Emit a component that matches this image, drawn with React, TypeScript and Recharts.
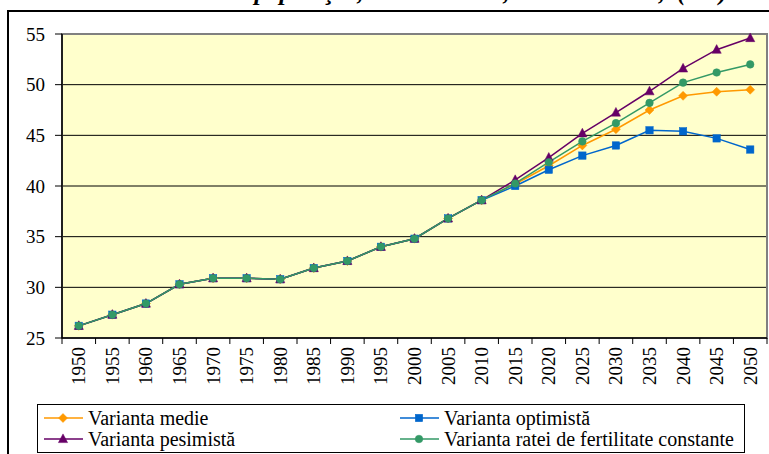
import React from "react";
import { LineChart, Line, XAxis, YAxis, CartesianGrid, ReferenceArea } from "recharts";

const years = [1950, 1955, 1960, 1965, 1970, 1975, 1980, 1985, 1990, 1995, 2000, 2005, 2010, 2015, 2020, 2025, 2030, 2035, 2040, 2045, 2050];
const medie = [26.2, 27.3, 28.4, 30.3, 30.9, 30.9, 30.8, 31.9, 32.6, 34.0, 34.8, 36.8, 38.6, 40.2, 42.0, 44.0, 45.6, 47.5, 48.9, 49.3, 49.5];
const optimista = [26.2, 27.3, 28.4, 30.3, 30.9, 30.9, 30.8, 31.9, 32.6, 34.0, 34.8, 36.8, 38.6, 40.0, 41.6, 43.0, 44.0, 45.5, 45.4, 44.7, 43.6];
const pesimista = [26.2, 27.3, 28.4, 30.3, 30.9, 30.9, 30.8, 31.9, 32.6, 34.0, 34.8, 36.8, 38.6, 40.6, 42.8, 45.2, 47.25, 49.35, 51.6, 53.45, 54.6];
const constanta = [26.2, 27.3, 28.4, 30.3, 30.9, 30.9, 30.8, 31.9, 32.6, 34.0, 34.8, 36.8, 38.6, 40.25, 42.35, 44.4, 46.2, 48.2, 50.2, 51.2, 52.0];
const yTicks = [25, 30, 35, 40, 45, 50, 55];
const seriesNames = ["Varianta medie", "Varianta optimistă", "Varianta pesimistă", "Varianta ratei de fertilitate constante"];
const titleText = "Vârsta medie a populaţiei, în România, 1950 – 2050, (ani)";

const data = years.map((y, i) => ({
  year: y,
  medie: medie[i],
  optimista: optimista[i],
  pesimista: pesimista[i],
  constanta: constanta[i],
}));

const FONT = '"Liberation Serif"';
const W = 769;
const H = 454;
const PLOT_LEFT = 62;
const PLOT_RIGHT = 767;
const PLOT_TOP = 34;
const PLOT_BOTTOM = 338;
const HALF_BAND = (PLOT_RIGHT - PLOT_LEFT) / years.length / 2;

const COLORS = {
  medie: "#FF9900",
  optimista: "#0066CC",
  pesimista: "#660066",
  constanta: "#339966",
};

type Shape = "diamond" | "square" | "triangle" | "circle";

function markerPath(shape: Shape, cx: number, cy: number, color: string, key?: string | number) {
  if (shape === "diamond") {
    const r = 4.5;
    return <path key={key} d={`M${cx},${cy - r}L${cx + r},${cy}L${cx},${cy + r}L${cx - r},${cy}Z`} fill={color} stroke={color} strokeWidth={0.5} />;
  }
  if (shape === "square") {
    const r = 3.7;
    return <rect key={key} x={cx - r} y={cy - r} width={r * 2} height={r * 2} fill={color} stroke={color} strokeWidth={0.5} />;
  }
  if (shape === "triangle") {
    const r = 4.6;
    return <path key={key} d={`M${cx},${cy - r - 0.5}L${cx + r},${cy + r - 1}L${cx - r},${cy + r - 1}Z`} fill={color} stroke={color} strokeWidth={0.5} />;
  }
  return <circle key={key} cx={cx} cy={cy} r={3.8} fill={color} stroke={color} strokeWidth={0.5} />;
}

const makeDot = (shape: Shape, color: string) => (props: any) => {
  const { cx, cy, index } = props;
  if (cx == null || cy == null) return <g key={`e-${shape}-${index}`} />;
  return markerPath(shape, cx, cy, color, `${shape}-${index}`);
};

const XTick = (props: any) => {
  const { x, payload } = props;
  const isLast = payload.value === years[years.length - 1];
  return (
    <g>
      <line x1={x - HALF_BAND} y1={PLOT_BOTTOM} x2={x - HALF_BAND} y2={PLOT_BOTTOM + 6} stroke="#000" strokeWidth={1} />
      {isLast && (
        <line x1={x + HALF_BAND} y1={PLOT_BOTTOM} x2={x + HALF_BAND} y2={PLOT_BOTTOM + 6} stroke="#000" strokeWidth={1} />
      )}
      <text
        x={x}
        y={PLOT_BOTTOM + 9}
        transform={`rotate(-90, ${x}, ${PLOT_BOTTOM + 9})`}
        textAnchor="end"
        dominantBaseline="central"
        style={{ fontFamily: FONT, fontSize: 19 }}
        fill="#000"
      >
        {payload.value}
      </text>
    </g>
  );
};

const YTick = (props: any) => {
  const { x, y, payload } = props;
  return (
    <text x={x} y={y} textAnchor="end" dominantBaseline="central" style={{ fontFamily: FONT, fontSize: 19 }} fill="#000">
      {payload.value}
    </text>
  );
};

const legendItems: { name: string; color: string; shape: Shape; left: number; top: number }[] = [
  { name: seriesNames[0], color: COLORS.medie, shape: "diamond", left: 44, top: 418 },
  { name: seriesNames[1], color: COLORS.optimista, shape: "square", left: 400, top: 418 },
  { name: seriesNames[2], color: COLORS.pesimista, shape: "triangle", left: 44, top: 439 },
  { name: seriesNames[3], color: COLORS.constanta, shape: "circle", left: 400, top: 439 },
];

export default function App() {
  return (
    <div style={{ position: "fixed", left: 0, top: 0, width: W, height: H, overflow: "hidden", background: "#fff", fontFamily: FONT }}>
      <div
        style={{
          position: "absolute",
          left: 7,
          top: 10,
          width: 800,
          height: 500,
          border: "2px solid #000",
          boxSizing: "border-box",
        }}
      />
      <svg width={W} height={20} style={{ position: "absolute", left: 0, top: 0 }}>
        <text
          x={76}
          y={-0.5}
          style={{ fontFamily: FONT, fontSize: 25, fontWeight: "bold", fontStyle: "italic", wordSpacing: 6 }}
          fill="#000"
        >
          {titleText}
        </text>
      </svg>
      <div style={{ position: "absolute", left: 0, top: 0 }}>
        <LineChart
          width={W}
          height={H}
          data={data}
          margin={{ top: PLOT_TOP, right: W - PLOT_RIGHT, left: 12, bottom: H - PLOT_BOTTOM - 60 }}
        >
          <CartesianGrid vertical={false} fill="#FFFFCC" stroke="#000" strokeWidth={1} />
          <ReferenceArea
            x1={1947.5}
            x2={2052.5}
            y1={25}
            y2={55}
            fill="none"
            stroke="#808080"
            strokeWidth={2}
            ifOverflow="visible"
          />
          <XAxis
            dataKey="year"
            type="number"
            domain={[1947.5, 2052.5]}
            ticks={years}
            interval={0}
            height={60}
            tickLine={false}
            axisLine={{ stroke: "#000", strokeWidth: 1.5 }}
            tick={<XTick />}
          />
          <YAxis
            type="number"
            domain={[25, 55]}
            ticks={yTicks}
            interval={0}
            width={50}
            tickSize={7}
            tickMargin={10}
            tickLine={{ stroke: "#000" }}
            axisLine={{ stroke: "#000", strokeWidth: 1.5 }}
            tick={<YTick />}
          />
          <Line type="linear" dataKey="medie" name={seriesNames[0]} stroke={COLORS.medie} strokeWidth={1.5} dot={makeDot("diamond", COLORS.medie)} activeDot={false} isAnimationActive={false} />
          <Line type="linear" dataKey="optimista" name={seriesNames[1]} stroke={COLORS.optimista} strokeWidth={1.5} dot={makeDot("square", COLORS.optimista)} activeDot={false} isAnimationActive={false} />
          <Line type="linear" dataKey="pesimista" name={seriesNames[2]} stroke={COLORS.pesimista} strokeWidth={1.5} dot={makeDot("triangle", COLORS.pesimista)} activeDot={false} isAnimationActive={false} />
          <Line type="linear" dataKey="constanta" name={seriesNames[3]} stroke={COLORS.constanta} strokeWidth={1.5} dot={makeDot("circle", COLORS.constanta)} activeDot={false} isAnimationActive={false} />
        </LineChart>
      </div>
      <div
        style={{
          position: "absolute",
          left: 37,
          top: 404,
          width: 708,
          height: 49,
          border: "1px solid #000",
          boxSizing: "border-box",
        }}
      />
      {legendItems.map((it) => (
        <div
          key={it.name}
          style={{
            position: "absolute",
            left: it.left,
            top: it.top - 10,
            height: 20,
            display: "flex",
            alignItems: "center",
            whiteSpace: "nowrap",
          }}
        >
          <svg width={40} height={20} style={{ display: "block" }}>
            <line x1={0} y1={10} x2={39} y2={10} stroke={it.color} strokeWidth={1.5} />
            {markerPath(it.shape, 19, 10, it.color)}
          </svg>
          <span style={{ fontFamily: FONT, fontSize: 20, lineHeight: "20px", color: "#000", marginLeft: 4 }}>{it.name}</span>
        </div>
      ))}
    </div>
  );
}
